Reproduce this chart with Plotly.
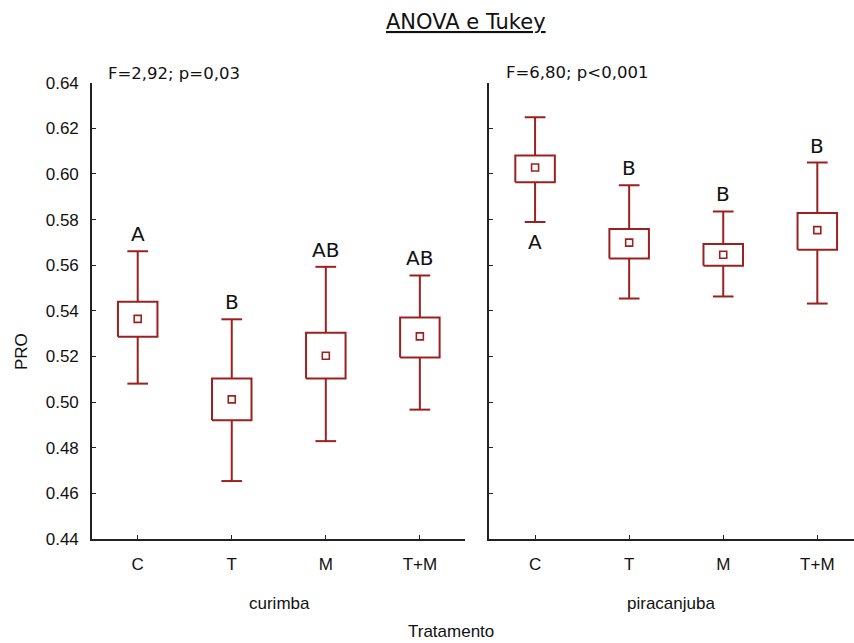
import plotly.graph_objects as go

W, H = 854, 643

treatments = ["C", "T", "M", "T+M"]
y_ticks = [0.44, 0.46, 0.48, 0.50, 0.52, 0.54, 0.56, 0.58, 0.60, 0.62, 0.64]

# curimba: mean, mean±SE box, whisker ends, Tukey letters
cur_mean = [0.5365, 0.5012, 0.5203, 0.5288]
cur_box_lo = [0.5287, 0.4920, 0.5104, 0.5195]
cur_box_hi = [0.5440, 0.5104, 0.5304, 0.5371]
cur_wh_lo = [0.5081, 0.4654, 0.4829, 0.4967]
cur_wh_hi = [0.5661, 0.5363, 0.5593, 0.5555]
cur_letters = ["A", "B", "AB", "AB"]
cur_letter_below = [False, False, False, False]

# piracanjuba
pir_mean = [0.6028, 0.5699, 0.5646, 0.5754]
pir_box_lo = [0.5964, 0.5629, 0.5598, 0.5668]
pir_box_hi = [0.6081, 0.5759, 0.5693, 0.5829]
pir_wh_lo = [0.5789, 0.5454, 0.5463, 0.5432]
pir_wh_hi = [0.6249, 0.5950, 0.5836, 0.6050]
pir_letters = ["A", "B", "B", "B"]
pir_letter_below = [True, False, False, False]

stats_text = ["F=2,92; p=0,03", "F=6,80; p<0,001"]
species = ["curimba", "piracanjuba"]

RED = "#9c2020"
BOX_HW = 0.21
CAP_HW = 0.11


def px_x(p):
    return p / W


def px_y(p):
    return 1 - p / H


def panel_traces(mean, lo, hi, wlo, whi, xa, ya):
    bx, by, wx, wy = [], [], [], []
    for i in range(len(mean)):
        bx += [i - BOX_HW, i + BOX_HW, i + BOX_HW, i - BOX_HW, i - BOX_HW, None]
        by += [lo[i], lo[i], hi[i], hi[i], lo[i], None]
        wx += [i, i, None, i, i, None,
               i - CAP_HW, i + CAP_HW, None, i - CAP_HW, i + CAP_HW, None]
        wy += [hi[i], whi[i], None, lo[i], wlo[i], None,
               whi[i], whi[i], None, wlo[i], wlo[i], None]
    idx = list(range(len(mean)))
    return [
        go.Scatter(x=wx, y=wy, mode="lines", line=dict(color=RED, width=2),
                   xaxis=xa, yaxis=ya, hoverinfo="skip", showlegend=False),
        go.Scatter(x=bx, y=by, mode="lines", line=dict(color=RED, width=2),
                   xaxis=xa, yaxis=ya, hoverinfo="skip", showlegend=False),
        go.Scatter(x=idx, y=mean, mode="markers",
                   marker=dict(symbol="square-open", size=7, color=RED,
                               line=dict(color=RED, width=1.6)),
                   xaxis=xa, yaxis=ya, showlegend=False),
    ]


fig = go.Figure()
for t in panel_traces(cur_mean, cur_box_lo, cur_box_hi, cur_wh_lo, cur_wh_hi, "x", "y"):
    fig.add_trace(t)
for t in panel_traces(pir_mean, pir_box_lo, pir_box_hi, pir_wh_lo, pir_wh_hi, "x2", "y2"):
    fig.add_trace(t)

annotations = []
letter_font = dict(family="DejaVu Sans", size=20, color="#111111")
for xref, yref, letters, below, wlo, whi in [
    ("x", "y", cur_letters, cur_letter_below, cur_wh_lo, cur_wh_hi),
    ("x2", "y2", pir_letters, pir_letter_below, pir_wh_lo, pir_wh_hi),
]:
    for i, lab in enumerate(letters):
        if below[i]:
            annotations.append(dict(x=i, y=wlo[i], xref=xref, yref=yref, text=lab,
                                    showarrow=False, xanchor="center", yanchor="top",
                                    yshift=-6, font=letter_font))
        else:
            annotations.append(dict(x=i, y=whi[i], xref=xref, yref=yref, text=lab,
                                    showarrow=False, xanchor="center", yanchor="bottom",
                                    yshift=3, font=letter_font))


def paper_text(x, y, text, font, xanchor="center", angle=0):
    return dict(x=px_x(x), y=px_y(y), xref="paper", yref="paper", text=text,
                showarrow=False, xanchor=xanchor, yanchor="middle",
                textangle=angle, font=font)


stat_font = dict(family="DejaVu Sans", size=16.5, color="#111111")
lab_font = dict(family="Liberation Sans", size=17, color="#111111")
annotations += [
    paper_text(106, 73, stats_text[0], stat_font, xanchor="left"),
    paper_text(504, 72, stats_text[1], stat_font, xanchor="left"),
    paper_text(279, 603, species[0], lab_font),
    paper_text(671, 603, species[1], lab_font),
    paper_text(451, 631, "Tratamento", lab_font),
    paper_text(21, 352, "PRO", lab_font, angle=-90),
    paper_text(466, 22, "<u>ANOVA e Tukey</u>",
               dict(family="DejaVu Sans", size=21, color="#111111")),
]

y_dom = [px_y(539), px_y(82.7)]
axis_font = dict(family="Liberation Sans", size=17, color="#111111")
common_x = dict(tickvals=list(range(len(treatments))), ticktext=treatments,
                showline=True, linecolor="#222222", linewidth=1.6, ticks="inside",
                ticklen=4, tickwidth=1.4, tickcolor="#222222", showgrid=False,
                zeroline=False, automargin=False, ticklabelstandoff=9,
                tickfont=axis_font)
common_y = dict(range=[0.44, 0.64], tickvals=y_ticks, tickformat=".2f",
                showline=True, linecolor="#222222", linewidth=1.6, ticks="inside",
                ticklen=4, tickwidth=1.4, tickcolor="#222222", showgrid=False,
                zeroline=False, automargin=False, domain=y_dom,
                tickfont=axis_font)

fig.update_layout(
    width=W, height=H,
    margin=dict(l=0, r=0, t=0, b=0),
    paper_bgcolor="white", plot_bgcolor="white",
    xaxis=dict(domain=[px_x(92), px_x(465)], range=[-0.486, 3.48], anchor="y", **common_x),
    yaxis=dict(anchor="x", ticklabelstandoff=8, **common_y),
    xaxis2=dict(domain=[px_x(488.7), 1.0], range=[-0.493, 3.39], anchor="y2", **common_x),
    yaxis2=dict(anchor="x2", showticklabels=False, **common_y),
    annotations=annotations,
)

fig.write_html("out.html")
